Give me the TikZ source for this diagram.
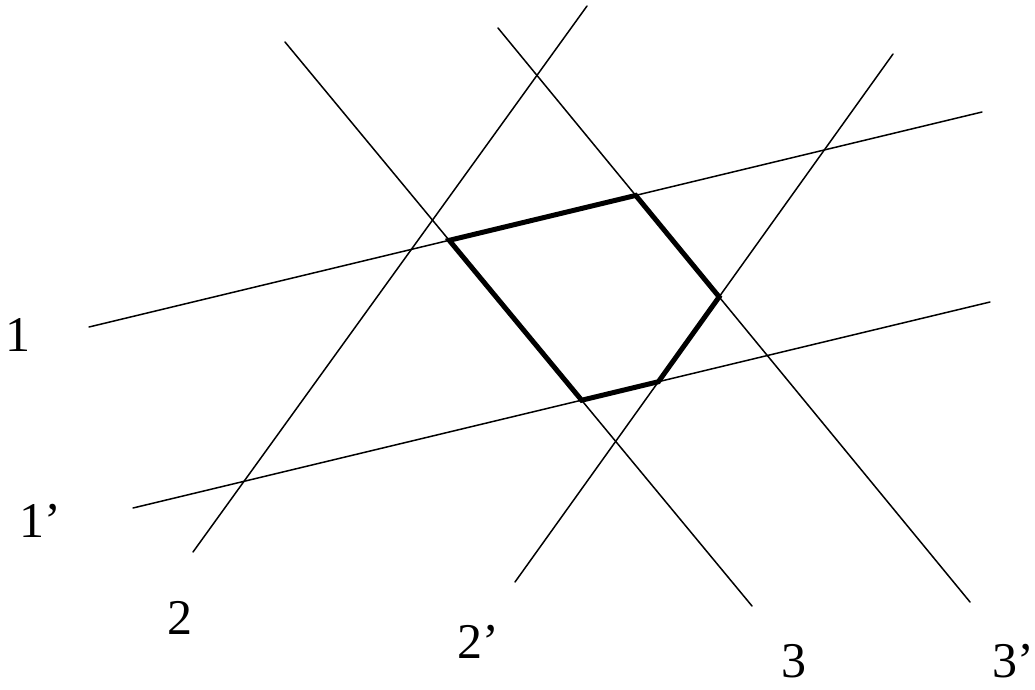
\documentclass[tikz,border=0pt]{standalone}
\usepackage{fontspec}
\setmainfont{Liberation Serif}
\usetikzlibrary{positioning}
\tikzset{
  family/.style={line width=1.5pt, black, line cap=round},
  cell/.style={line width=5pt, black, line join=miter},
  lbl/.style={inner sep=0pt, font=\fontsize{50}{60}\selectfont},
}
\begin{document}
\begin{tikzpicture}[x=1pt, y=-1pt]
    \useasboundingbox (0,0) rectangle (1035,689);
    % end points of the six lines
    \coordinate (oneA) at (89,327);   \coordinate (oneB) at (982,112);
    \coordinate (onepA) at (133,508); \coordinate (onepB) at (990,302);
    \coordinate (twoA) at (193,552);  \coordinate (twoB) at (587,6);
    \coordinate (twopA) at (515,582); \coordinate (twopB) at (893,54);
    \coordinate (threeA) at (285,42); \coordinate (threeB) at (752,606);
    \coordinate (threepA) at (498,28); \coordinate (threepB) at (970,602);
    \draw[family] (oneA) -- (oneB);
    \draw[family] (onepA) -- (onepB);
    \draw[family] (twoA) -- (twoB);
    \draw[family] (twopA) -- (twopB);
    \draw[family] (threeA) -- (threeB);
    \draw[family] (threepA) -- (threepB);
    % the cell cut out by the lines
    \coordinate (v1) at (intersection of oneA--oneB and threeA--threeB);
    \coordinate (v2) at (intersection of oneA--oneB and threepA--threepB);
    \coordinate (v3) at (intersection of threepA--threepB and twopA--twopB);
    \coordinate (v4) at (intersection of twopA--twopB and onepA--onepB);
    \coordinate (v5) at (intersection of onepA--onepB and threeA--threeB);
    \draw[cell] (v1) -- (v2) -- (v3) -- (v4) -- (v5) -- cycle;
    % labels
    \node[lbl] (lone) at (18,335) {1};
    \node[lbl] (lonep) at (40,521) {1’};
    \node[lbl] (ltwo) at (180,618) {2};
    \node[lbl] (ltwop) at (478,642) {2’};
    \node[lbl] (lthree) at (794,661) {3};
    \node[lbl] (lthreep) at (1013,661) {3’};
\end{tikzpicture}
\end{document}
